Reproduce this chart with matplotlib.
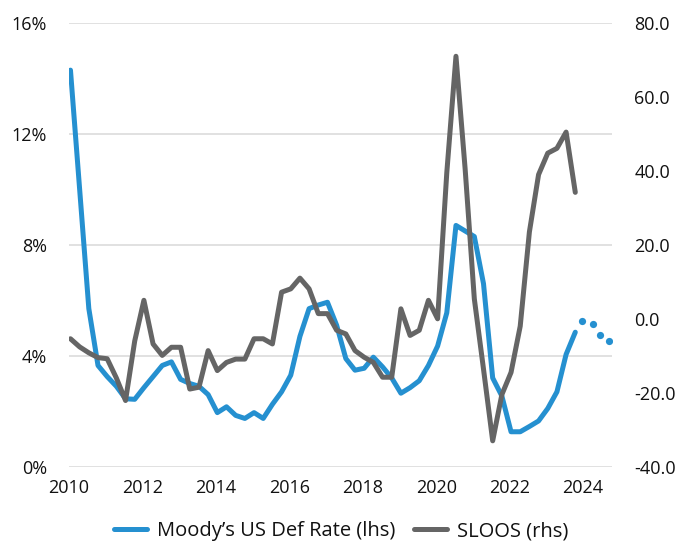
import numpy as np
import matplotlib
matplotlib.use("Agg")
import matplotlib.pyplot as plt
from matplotlib.ticker import FuncFormatter, MultipleLocator

# Quarterly observations, Q1 2010 .. Q4 2023
start_year = 2010.04
default_rate = [
    14.3, 10.0, 5.7, 3.65,      # 2010
    3.25, 2.9, 2.45, 2.43,      # 2011
    2.85, 3.25, 3.65, 3.78,     # 2012
    3.15, 3.0, 2.9, 2.6,        # 2013
    1.95, 2.16, 1.85, 1.74,     # 2014
    1.95, 1.74, 2.25, 2.7,      # 2015
    3.3, 4.7, 5.7, 5.83,        # 2016
    5.93, 5.1, 3.9, 3.48,       # 2017
    3.55, 3.95, 3.6, 3.2,       # 2018
    2.65, 2.85, 3.1, 3.65,      # 2019
    4.35, 5.55, 8.7, 8.5,       # 2020
    8.3, 6.6, 3.2, 2.55,        # 2021
    1.26, 1.26, 1.45, 1.65,     # 2022
    2.1, 2.7, 4.05, 4.85,       # 2023
]
sloos = [
    -5.4, -7.6, -9.2, -10.5,    # 2010
    -10.8, -16.0, -22.1, -6.0,  # 2011
    5.0, -6.8, -9.9, -7.7,      # 2012
    -7.7, -19.0, -18.5, -8.6,   # 2013
    -14.0, -11.8, -10.9, -10.9, # 2014
    -5.4, -5.4, -6.8, 7.2,      # 2015
    8.1, 11.0, 8.1, 1.4,        # 2016
    1.4, -3.1, -4.1, -8.6,      # 2017
    -10.4, -11.8, -15.8, -15.8, # 2018
    2.7, -4.5, -3.1, 5.0,       # 2019
    0.0, 39.5, 71.0, 40.5,      # 2020
    5.4, -13.6, -33.0, -20.5,   # 2021
    -14.5, -2.0, 23.5, 39.0,    # 2022
    44.8, 46.1, 50.5, 34.2,     # 2023
]
# Projected default rate, 2024
forecast_x = [2023.97, 2024.26, 2024.45, 2024.7]
forecast_rate = [5.25, 5.15, 4.75, 4.55]

x = start_year + 0.25 * np.arange(len(default_rate))

BLUE = "#2590D0"
GREY = "#656565"
GRID = "#D9D9D9"
plt.rcParams["font.family"] = ["Open Sans", "DejaVu Sans"]

fig = plt.figure(figsize=(6.82, 5.43), dpi=100)
ax = fig.add_axes([69 / 682, 1 - 466.7 / 543, (612 - 69) / 682, (466.7 - 23) / 543])
ax2 = ax.twinx()

ax.plot(x, default_rate, color=BLUE, lw=3.6, solid_capstyle="round",
        solid_joinstyle="round", label="Moody\u2019s US Def Rate (lhs)")
ax.plot(forecast_x, forecast_rate, color=BLUE, lw=0, marker="o", ms=5.2,
        markeredgewidth=0)
ax2.plot(x, sloos, color=GREY, lw=3.6, solid_capstyle="round",
         solid_joinstyle="round", label="SLOOS (rhs)")

ax.set_xlim(2010.0, 2024.79)
ax.set_ylim(0, 16)
ax2.set_ylim(-40, 80)
ax.xaxis.set_major_locator(MultipleLocator(2))
ax.yaxis.set_major_locator(MultipleLocator(4))
ax2.yaxis.set_major_locator(MultipleLocator(20))
ax.xaxis.set_major_formatter(FuncFormatter(lambda v, p: f"{v:.0f}"))
ax.yaxis.set_major_formatter(FuncFormatter(lambda v, p: f"{v:.0f}%"))
ax2.yaxis.set_major_formatter(FuncFormatter(lambda v, p: f"{v:.1f}"))

ax.grid(axis="y", color=GRID, lw=1.1)
ax.set_axisbelow(True)
for a in (ax, ax2):
    for s in a.spines.values():
        s.set_visible(False)
    a.tick_params(length=0, labelsize=13, colors="#111111")
ax.tick_params(axis="y", pad=16)
ax.tick_params(axis="x", pad=9)
ax2.tick_params(axis="y", pad=16)

h1, l1 = ax.get_legend_handles_labels()
h2, l2 = ax2.get_legend_handles_labels()
fig.legend(h1[:1] + h2, l1[:1] + l2, loc="center", bbox_to_anchor=(0.5, 1 - 531 / 543),
           ncol=2, frameon=False, fontsize=14.5, handlelength=1.65, handletextpad=0.5,
           columnspacing=0.9, labelcolor="#111111")

fig.savefig("out.png", dpi=100)
